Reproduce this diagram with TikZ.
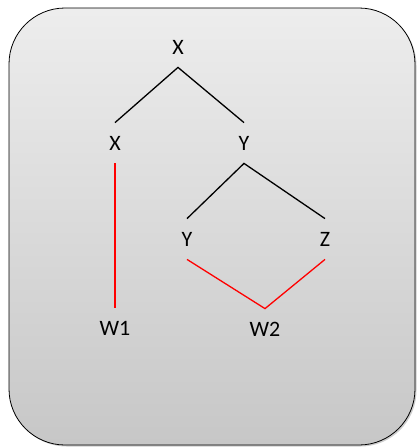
\documentclass[tikz,border=0pt]{standalone}
\usepackage{fontspec}
\setmainfont{Carlito}
\usetikzlibrary{shadows}

\definecolor{boxtop}{gray}{0.93}
\definecolor{boxbottom}{gray}{0.78}

\begin{document}
\begin{tikzpicture}[x=1pt,y=-1pt,thick]
    % `term' is used for every letter of the tree.
    % `link' is used for the black branches, `merge' for the red ones.
    % `panel' is used for the background box.
    \tikzstyle{term} = [font=\fontsize{22}{25}\selectfont,minimum height=40pt,inner sep=0pt]
    \tikzstyle{link} = [draw=black,line width=1.3pt]
    \tikzstyle{merge} = [draw=red,line width=1.3pt]
    \tikzstyle{panel} = [draw=black,line width=0.8pt,rounded corners=56pt,
      top color=boxtop,bottom color=boxbottom,
      drop shadow={shadow xshift=1.5pt,shadow yshift=-1.5pt,opacity=0.4}]
    %
    \useasboundingbox (0,0) rectangle (417,448);
    % Draw background box.
    \path[panel] (9,8) rectangle (415,445);
    %
    \node[term] (root) at (178,47) {X};
    \node[term] (xl) at (115,143) {X};
    \node[term] (yr) at (244,143) {Y};
    \node[term] (yl) at (187,239) {Y};
    \node[term] (zr) at (325,239) {Z};
    \node[term] (w1) at (115,328) {W1};
    \node[term] (w2) at (265,329) {W2};
    %
    % Draw lines.
    \draw[link] (xl.north) -- (root.south) -- (yr.north);
    \draw[link] (yl.north) -- (yr.south) -- (zr.north);
    \draw[merge] (xl.south) -- (w1.north);
    \draw[merge] (yl.south) -- (w2.north) -- (zr.south);
\end{tikzpicture}
\end{document}
